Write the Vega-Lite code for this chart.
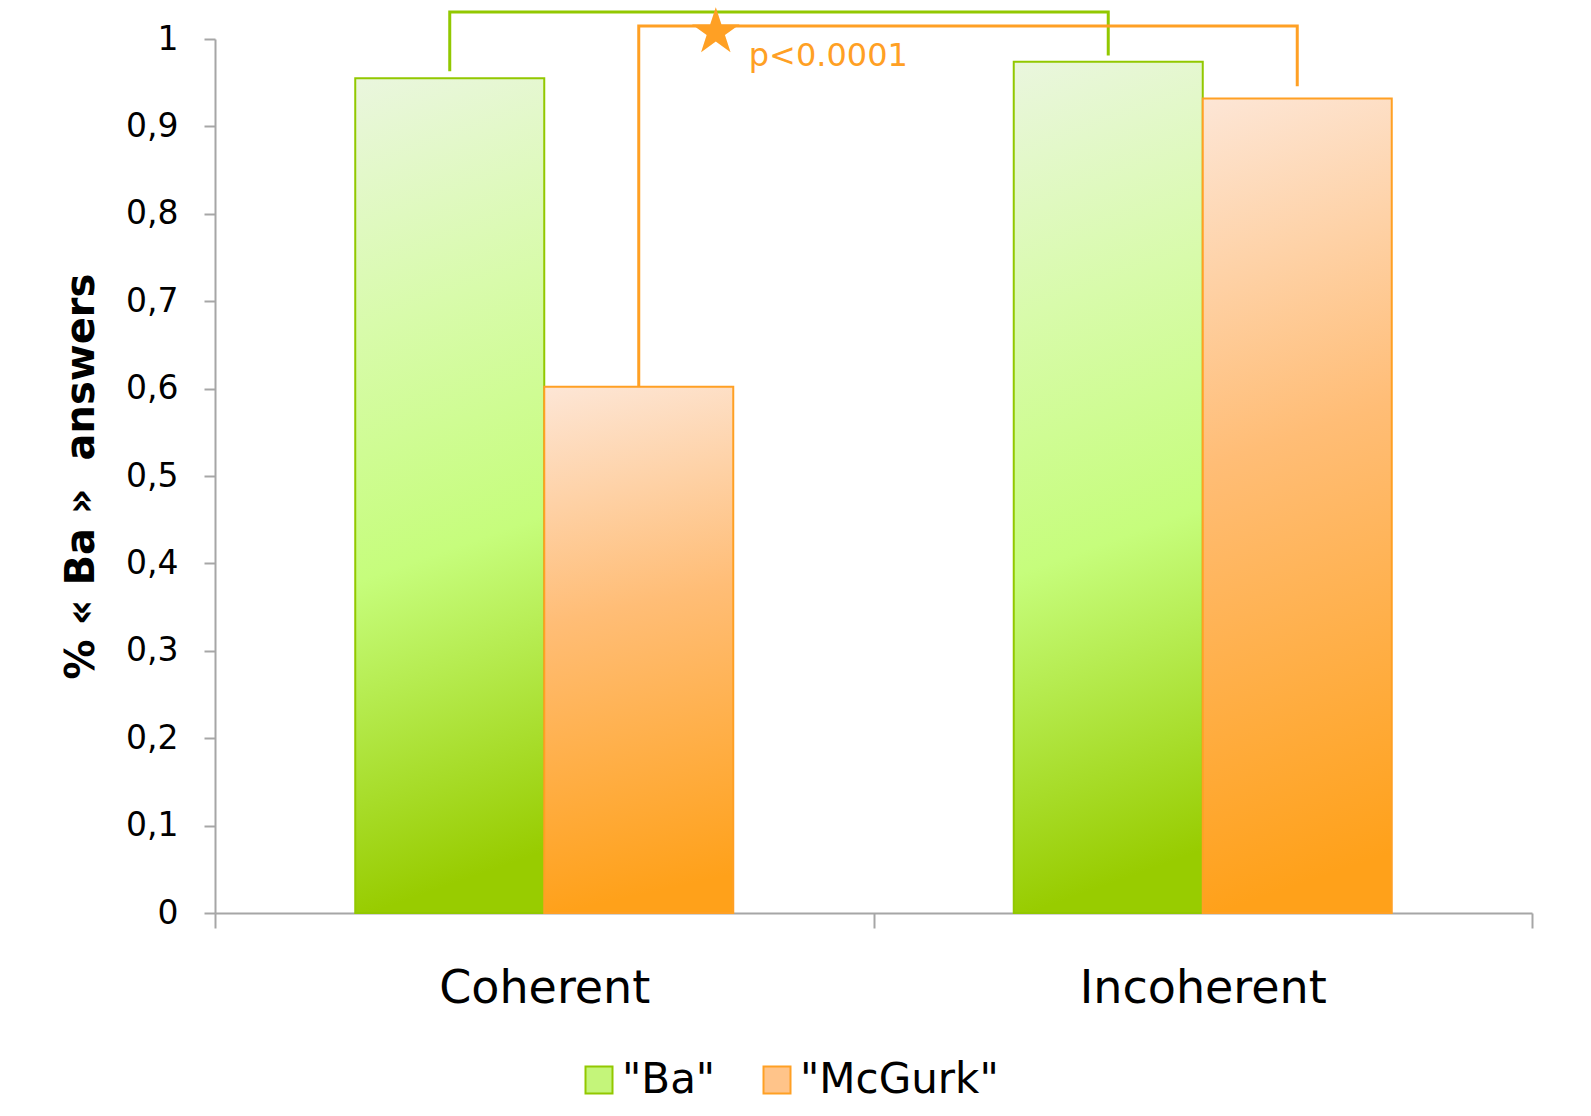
{
  "$schema": "https://vega.github.io/schema/vega-lite/v6.json",
  "width": 1317,
  "height": 874,
  "autosize": {"type": "none"},
  "padding": {"left": 215, "top": 39, "right": 59, "bottom": 203},
  "background": "white",
  "config": {"view": {"stroke": null}, "font": "DejaVu Sans"},
  "datasets": {
    "bars": [
      {"condition": "Coherent", "answer": "Ba", "proportion": 0.955},
      {"condition": "Coherent", "answer": "McGurk", "proportion": 0.602},
      {"condition": "Incoherent", "answer": "Ba", "proportion": 0.974},
      {"condition": "Incoherent", "answer": "McGurk", "proportion": 0.932}
    ],
    "brackets": [
      {"bracket": "Ba", "step": 1, "condition": "Coherent", "answer": "Ba", "level": 0.963},
      {"bracket": "Ba", "step": 2, "condition": "Coherent", "answer": "Ba", "level": 1.031},
      {"bracket": "Ba", "step": 3, "condition": "Incoherent", "answer": "Ba", "level": 1.031},
      {"bracket": "Ba", "step": 4, "condition": "Incoherent", "answer": "Ba", "level": 0.981},
      {"bracket": "McGurk", "step": 1, "condition": "Coherent", "answer": "McGurk", "level": 0.602},
      {"bracket": "McGurk", "step": 2, "condition": "Coherent", "answer": "McGurk", "level": 1.015},
      {"bracket": "McGurk", "step": 3, "condition": "Incoherent", "answer": "McGurk", "level": 1.015},
      {"bracket": "McGurk", "step": 4, "condition": "Incoherent", "answer": "McGurk", "level": 0.946}
    ],
    "significance": [
      {"condition": "Coherent", "answer": "McGurk", "level": 1.007, "star": "★", "label": "p<0.0001", "labelLevel": 0.969}
    ]
  },
  "encoding": {
    "x": {
      "field": "condition", "type": "nominal", "sort": ["Coherent", "Incoherent"],
      "scale": {"domain": ["Coherent", "Incoherent"], "paddingInner": 0, "paddingOuter": 0},
      "axis": {
        "title": null, "tickBand": "extent", "labelAngle": 0, "labelLimit": 0,
        "labelFontSize": 46, "labelColor": "#000000", "labelPadding": 38,
        "tickSize": 15, "tickColor": "#a6a6a6", "tickWidth": 2,
        "domainColor": "#a6a6a6", "domainWidth": 2
      }
    },
    "xOffset": {
      "field": "answer", "type": "nominal", "sort": ["Ba", "McGurk"],
      "scale": {"domain": ["Ba", "McGurk"], "paddingInner": 0, "paddingOuter": 0.742}
    }
  },
  "layer": [
    {
      "data": {"name": "bars"},
      "mark": {"type": "bar", "strokeWidth": 2},
      "encoding": {
        "y": {
          "field": "proportion", "type": "quantitative",
          "scale": {"domain": [0, 1], "nice": false},
          "axis": {
            "title": "% « Ba »\u00a0\u00a0answers",
            "values": [0, 0.1, 0.2, 0.3, 0.4, 0.5, 0.6, 0.7, 0.8, 0.9, 1],
            "labelExpr": "replace(format(datum.value, '~g'), '.', ',')",
            "labelFontSize": 33, "labelColor": "#000000", "labelPadding": 26,
            "tickSize": 11, "tickColor": "#a6a6a6", "tickWidth": 2,
            "domainColor": "#a6a6a6", "domainWidth": 2, "grid": false,
            "titleFontSize": 40, "titleFontWeight": "bold", "titleColor": "#000000",
            "titleX": -134, "titleY": 437, "titleAngle": -90,
            "titleAlign": "center", "titleBaseline": "middle"
          }
        },
        "fill": {
          "field": "answer", "type": "nominal",
          "scale": {"domain": ["Ba", "McGurk"], "range": ["#c4f57a", "#ffc48a"]},
          "condition": [
            {"test": "datum.answer === 'Ba'", "value": {"gradient": "linear", "x1": 0, "y1": 0, "x2": 0.08, "y2": 1, "stops": [{"offset": 0, "color": "#eaf6de"}, {"offset": 0.3, "color": "#d8fbab"}, {"offset": 0.6, "color": "#c6fd7c"}, {"offset": 1, "color": "#98cc00"}]}},
            {"test": "datum.answer === 'McGurk'", "value": {"gradient": "linear", "x1": 0, "y1": 0, "x2": 0.08, "y2": 1, "stops": [{"offset": 0, "color": "#fde6d6"}, {"offset": 0.45, "color": "#ffbd76"}, {"offset": 1, "color": "#ffa11a"}]}}
          ],
          "legend": {
            "orient": "none", "legendX": 363, "legendY": 1020, "direction": "horizontal",
            "title": null, "symbolType": "square", "symbolSize": 729, "symbolStrokeWidth": 2,
            "labelFontSize": 42, "labelColor": "#000000", "labelOffset": 2, "labelLimit": 0,
            "labelExpr": "'\"' + datum.label + '\"'",
            "columnPadding": 40, "padding": 0, "symbolOpacity": 1
          }
        },
        "stroke": {
          "field": "answer", "type": "nominal",
          "scale": {"domain": ["Ba", "McGurk"], "range": ["#92c800", "#ffa024"]},
          "legend": {
            "orient": "none", "legendX": 363, "legendY": 1020, "direction": "horizontal",
            "title": null, "symbolType": "square", "symbolSize": 729, "symbolStrokeWidth": 2,
            "labelFontSize": 42, "labelColor": "#000000", "labelOffset": 2, "labelLimit": 0,
            "labelExpr": "'\"' + datum.label + '\"'",
            "columnPadding": 40, "padding": 0, "symbolOpacity": 1
          }
        }
      }
    },
    {
      "data": {"name": "brackets"},
      "transform": [{"filter": "datum.bracket === 'Ba'"}],
      "mark": {"type": "line", "strokeWidth": 3, "color": "#92c800", "strokeJoin": "miter"},
      "encoding": {
        "y": {"field": "level", "type": "quantitative", "scale": {"domain": [0, 1], "nice": false}},
        "order": {"field": "step", "type": "quantitative"}
      }
    },
    {
      "data": {"name": "brackets"},
      "transform": [{"filter": "datum.bracket === 'McGurk'"}],
      "mark": {"type": "line", "strokeWidth": 3, "color": "#ffa024", "strokeJoin": "miter"},
      "encoding": {
        "y": {"field": "level", "type": "quantitative", "scale": {"domain": [0, 1], "nice": false}},
        "order": {"field": "step", "type": "quantitative"}
      }
    },
    {
      "data": {"name": "significance"},
      "mark": {"type": "text", "align": "center", "baseline": "middle", "fontSize": 62, "color": "#ffa024", "dx": 77},
      "encoding": {
        "y": {"field": "level", "type": "quantitative", "scale": {"domain": [0, 1], "nice": false}},
        "text": {"field": "star"}
      }
    },
    {
      "data": {"name": "significance"},
      "mark": {"type": "text", "align": "left", "baseline": "alphabetic", "fontSize": 32, "color": "#ffa024", "dx": 110},
      "encoding": {
        "y": {"field": "labelLevel", "type": "quantitative", "scale": {"domain": [0, 1], "nice": false}},
        "text": {"field": "label"}
      }
    }
  ]
}
